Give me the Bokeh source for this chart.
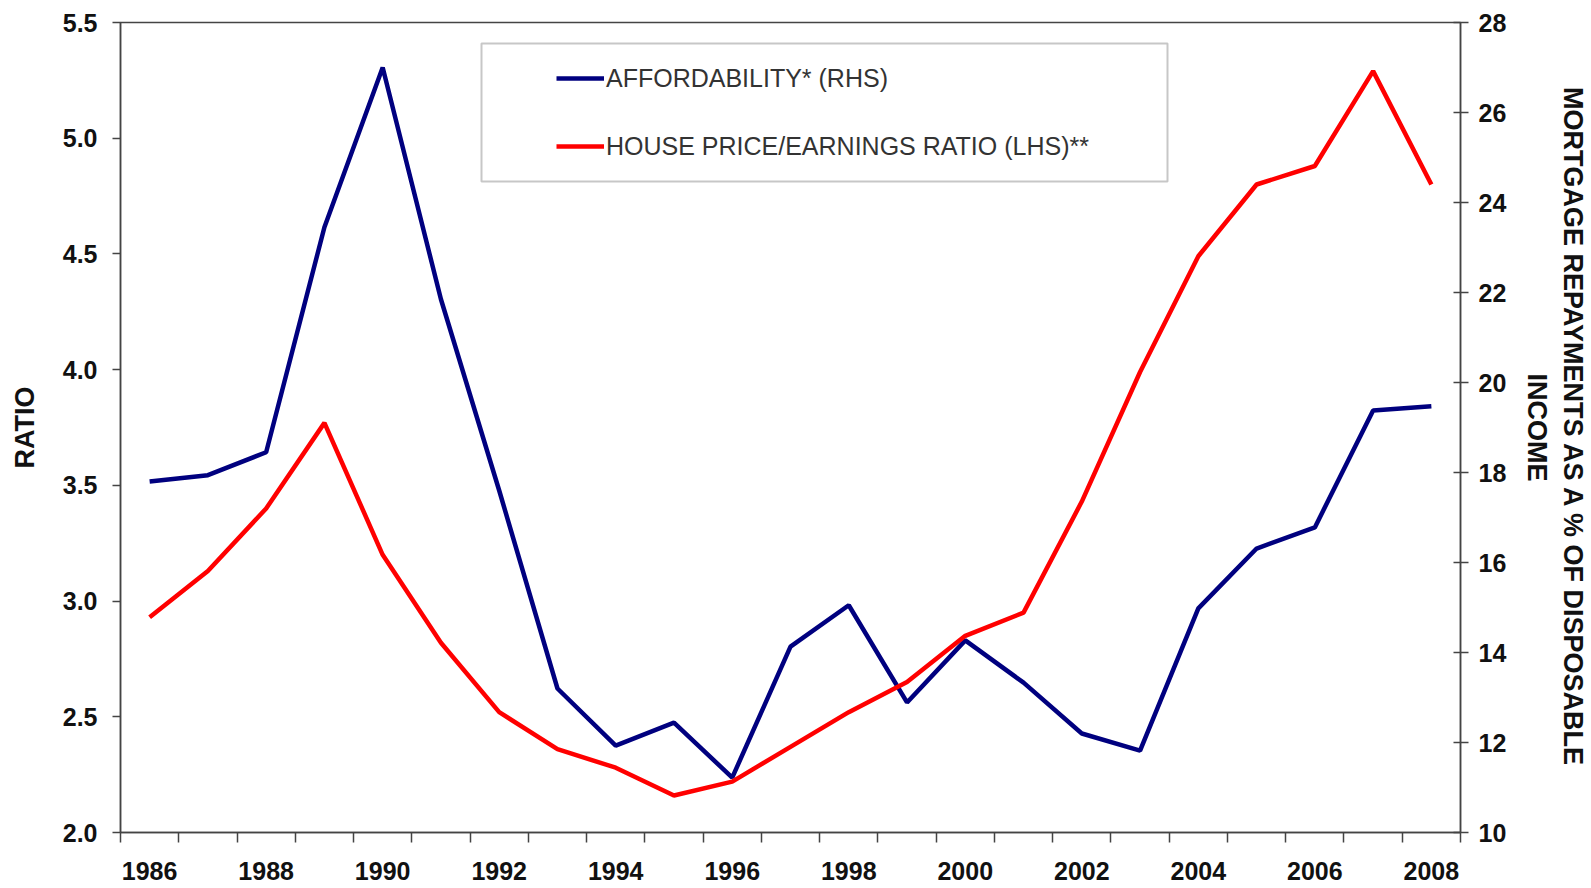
from bokeh.plotting import figure
from bokeh.models import (Range1d, LinearAxis, FixedTicker, NumeralTickFormatter,
                          Legend, LegendItem, BoxAnnotation)
from bokeh.embed import file_html
from bokeh.resources import INLINE

# ---- data ----
years = list(range(1986, 2009))
price_earnings_lhs = [2.93, 3.13, 3.40, 3.77, 3.20, 2.82, 2.52, 2.36, 2.28, 2.16, 2.22, 2.37,
                      2.52, 2.65, 2.85, 2.95, 3.43, 3.99, 4.49, 4.80, 4.88, 5.29, 4.80]
affordability_rhs = [17.80, 17.94, 18.45, 23.45, 27.00, 21.85, 17.60, 13.20, 11.93, 12.44, 11.22, 14.13,
                     15.05, 12.89, 14.27, 13.33, 12.20, 11.82, 14.98, 16.31, 16.78, 19.38, 19.47]
year_labels = [y for y in years if y % 2 == 0]
left_ticks = [2.0, 2.5, 3.0, 3.5, 4.0, 4.5, 5.0, 5.5]
right_ticks = [10, 12, 14, 16, 18, 20, 22, 24, 26, 28]

FONT = "Liberation Sans"
AX = "#444444"

p = figure(width=1591, height=886, output_backend="svg", toolbar_location=None,
           x_range=Range1d(years[0] - 0.5, years[-1] + 0.5),
           y_range=Range1d(left_ticks[0], left_ticks[-1]),
           min_border_left=120, min_border_right=129, min_border_top=22, min_border_bottom=54,
           x_axis_type=None, y_axis_type=None)
p.extra_y_ranges = {"rhs": Range1d(right_ticks[0], right_ticks[-1])}
p.xgrid.visible = False
p.ygrid.visible = False
p.outline_line_color = AX
p.outline_line_width = 1.5
p.background_fill_color = "white"
p.border_fill_color = "white"

def style_axis(ax):
    ax.axis_line_color = AX
    ax.axis_line_width = 1.5
    ax.major_tick_line_color = AX
    ax.major_tick_line_width = 1.5
    ax.minor_tick_line_color = AX
    ax.minor_tick_line_width = 1.5
    ax.major_label_text_font = FONT
    ax.major_label_text_font_style = "bold"
    ax.major_label_text_font_size = "25px"
    ax.major_label_text_color = "#111111"
    ax.axis_label_text_font = FONT
    ax.axis_label_text_font_style = "bold"
    ax.axis_label_text_color = "#111111"

# bottom axis: labels on even years, tick marks between categories
xax = LinearAxis(ticker=FixedTicker(ticks=year_labels,
                                    minor_ticks=[y - 0.5 for y in years] + [years[-1] + 0.5]))
style_axis(xax)
xax.major_tick_in = 0
xax.major_tick_out = 0
xax.minor_tick_in = 0
xax.minor_tick_out = 10
xax.major_label_standoff = 19
p.add_layout(xax, "below")

# left axis
lax = LinearAxis(ticker=FixedTicker(ticks=left_ticks), formatter=NumeralTickFormatter(format="0.0"),
                 axis_label="RATIO")
style_axis(lax)
lax.major_tick_in = 0
lax.major_tick_out = 8
lax.minor_tick_out = 0
lax.minor_tick_in = 0
lax.major_label_standoff = 15
lax.axis_label_standoff = 20
lax.axis_label_text_font_size = "27px"
p.add_layout(lax, "left")

# right axis
rax = LinearAxis(y_range_name="rhs", ticker=FixedTicker(ticks=right_ticks),
                 axis_label="MORTGAGE REPAYMENTS AS A % OF DISPOSABLE\nINCOME")
style_axis(rax)
rax.major_tick_in = 7
rax.major_tick_out = 8
rax.minor_tick_out = 0
rax.minor_tick_in = 0
rax.major_label_standoff = 10
rax.axis_label_standoff = 13
rax.axis_label_text_font_size = "27px"
p.add_layout(rax, "right")

r_aff = p.line(years, affordability_rhs, y_range_name="rhs", line_color="#00007F", line_width=4.5)
r_pe = p.line(years, price_earnings_lhs, line_color="#FF0000", line_width=4.5)

# legend frame
box = BoxAnnotation(left=481, right=1167, top=43, bottom=181,
                    left_units="canvas", right_units="canvas", top_units="canvas", bottom_units="canvas",
                    fill_alpha=0, line_color=AX, line_width=2)
p.add_layout(box)

legend = Legend(items=[LegendItem(label="AFFORDABILITY* (RHS)", renderers=[r_aff]),
                       LegendItem(label="HOUSE PRICE/EARNINGS RATIO (LHS)**", renderers=[r_pe])],
                location=(436, 671), padding=0, margin=0, spacing=38,
                label_height=30, glyph_height=30, glyph_width=48, label_standoff=2,
                label_text_font=FONT, label_text_font_size="25px", label_text_color="#333333",
                border_line_alpha=0, background_fill_alpha=0)
p.add_layout(legend)

open("out.html", "w").write(file_html(p, INLINE))
